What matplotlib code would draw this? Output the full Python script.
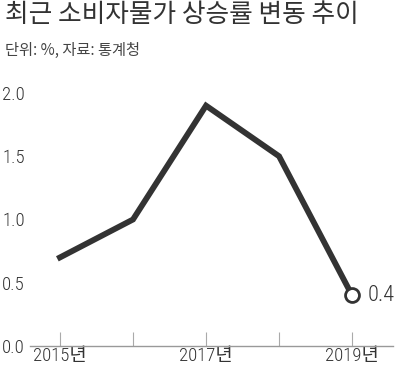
import matplotlib
matplotlib.use('Agg')
from matplotlib import pyplot as plt

years = [2015, 2016, 2017, 2018, 2019]
rates = [0.7, 1.0, 1.9, 1.5, 0.4]
label_years = [2015, 2017, 2019]
label_text = ['2015년', '2017년', '2019년']
yticks = [0.0, 0.5, 1.0, 1.5, 2.0]

num_font = ['Roboto Condensed', 'Noto Sans CJK KR']
plt.rcParams['font.family'] = ['Noto Sans CJK KR', 'DejaVu Sans']

fig = plt.figure(figsize=(4, 3.69), dpi=100)
ax = fig.add_axes([0.075, 0.0623, 0.9075, 0.6857])

ax.plot(years, rates, color='#333333', lw=4.2, solid_joinstyle='miter', clip_on=False, zorder=3)
ax.plot(years[-1], rates[-1], 'o', ms=10, mfc='white', mec='#333333', mew=2, clip_on=False, zorder=4)
ax.annotate('%.1f' % rates[-1], (years[-1], rates[-1]), xytext=(11, 0), textcoords='offset points',
            va='center', ha='left', fontsize=16, color='#333333', family=num_font, fontweight='light')

ax.set_xlim(2014.59, 2019.56)
ax.set_ylim(0, 2.0)

for s in ['top', 'right', 'left']:
    ax.spines[s].set_visible(False)
ax.spines['bottom'].set_color('#999999')
ax.spines['bottom'].set_linewidth(1)

ax.set_xticks(years)
ax.set_xticklabels([label_text[label_years.index(y)] if y in label_years else '' for y in years],
                   family=num_font, fontsize=13.5, color='#333333', fontweight='light')
ax.tick_params(axis='x', direction='in', length=10, width=0.8, color='#aaaaaa', pad=1)

ax.set_yticks(yticks)
ax.set_yticklabels(['%.1f' % v for v in yticks], family=num_font, fontsize=13.5, color='#333333',
                   ha='left', fontweight='light')
ax.tick_params(axis='y', length=0, pad=20)

fig.text(0.012, 0.995, '최근 소비자물가 상승률 변동 추이', fontsize=18.5, color='#333333', va='top', ha='left',
         fontweight='medium')
fig.text(0.012, 0.862, '단위: %, 자료: 통계청', fontsize=11, color='#444444', va='center', ha='left')

fig.savefig('out.png', dpi=100)
